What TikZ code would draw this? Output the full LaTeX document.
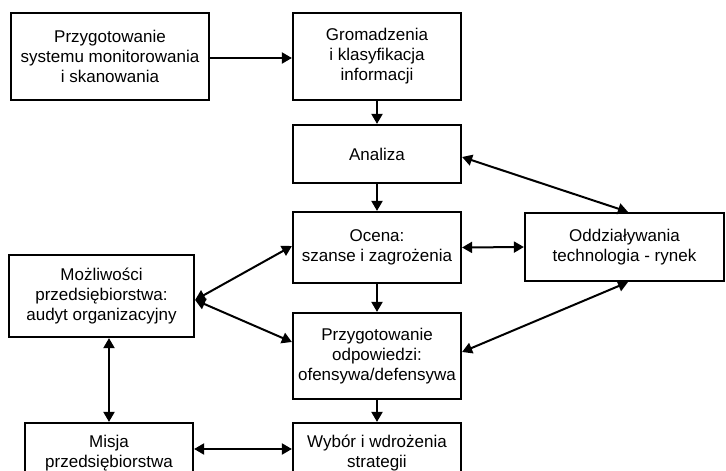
\documentclass[tikz,border=0pt]{standalone}
\usepackage{fontspec}
\setmainfont{Liberation Sans}
\usetikzlibrary{arrows.meta,calc}
\begin{document}
\begin{tikzpicture}[x=1pt,y=-1pt,
  box/.style={draw,line width=2.2pt,align=center,inner sep=2pt,
    font=\fontsize{17}{20}\selectfont},
  tip/.style={Triangle[length=10pt,width=11pt]},
  conn/.style={line width=2pt,-{Triangle[length=10pt,width=11pt]}},
  bconn/.style={line width=2pt,{Triangle[length=10pt,width=11pt]}-{Triangle[length=10pt,width=11pt]}}]
\useasboundingbox (0,0) rectangle (726,471);
\clip (0,0) rectangle (726,471);
\node[box,minimum width=198pt,minimum height=87pt] (b1) at (110,56.5) {Przygotowanie\\systemu monitorowania\\i skanowania};
\node[box,minimum width=168pt,minimum height=87pt] (b2) at (377,56.5) {Gromadzenia\\i klasyfikacja\\informacji};
\node[box,minimum width=168pt,minimum height=58pt] (an) at (377,154) {Analiza};
\node[box,minimum width=168pt,minimum height=71pt] (oc) at (377,247.5) {Ocena:\\szanse i zagrożenia};
\node[box,minimum width=199pt,minimum height=68pt] (od) at (624.5,247) {Oddziaływania\\technologia - rynek};
\node[box,minimum width=185pt,minimum height=82pt] (mo) at (101.5,296) {Możliwości\\przedsiębiorstwa:\\audyt organizacyjny};
\node[box,minimum width=168pt,minimum height=86pt] (pr) at (377,356) {Przygotowanie\\odpowiedzi:\\ofensywa/defensywa};
\node[box,minimum width=168pt,minimum height=60pt] (wy) at (377,453) {Wybór i wdrożenia\\strategii};
\node[box,minimum width=168pt,minimum height=60pt] (mi) at (109,453) {Misja\\przedsiębiorstwa};
\draw[conn] ([yshift=-1.5pt]b1.east) -- ([yshift=-1.5pt]b2.west);
\draw[conn] (b2.south) -- (an.north);
\draw[conn] (an.south) -- (oc.north);
\draw[conn] (oc.south) -- (pr.north);
\draw[conn] (pr.south) -- (wy.north);
\draw[bconn] ([yshift=-3pt]an.east) -- ([xshift=3.5pt]od.north);
\draw[bconn] (oc.east) -- (od.west);
\draw[bconn] ([xshift=3.5pt]od.south) -- ([yshift=4pt]pr.east);
\coordinate (mr) at ([yshift=-4pt]mo.east);
\draw[bconn] (mr) -- ([yshift=1.5pt]oc.west);
\draw[bconn] (mr) -- ([yshift=14pt]pr.west);
\draw[bconn] (mi.north |- mo.south) -- (mi.north);
\draw[bconn] ([yshift=4pt]mi.east) -- ([yshift=4pt]wy.west);
\end{tikzpicture}
\end{document}
